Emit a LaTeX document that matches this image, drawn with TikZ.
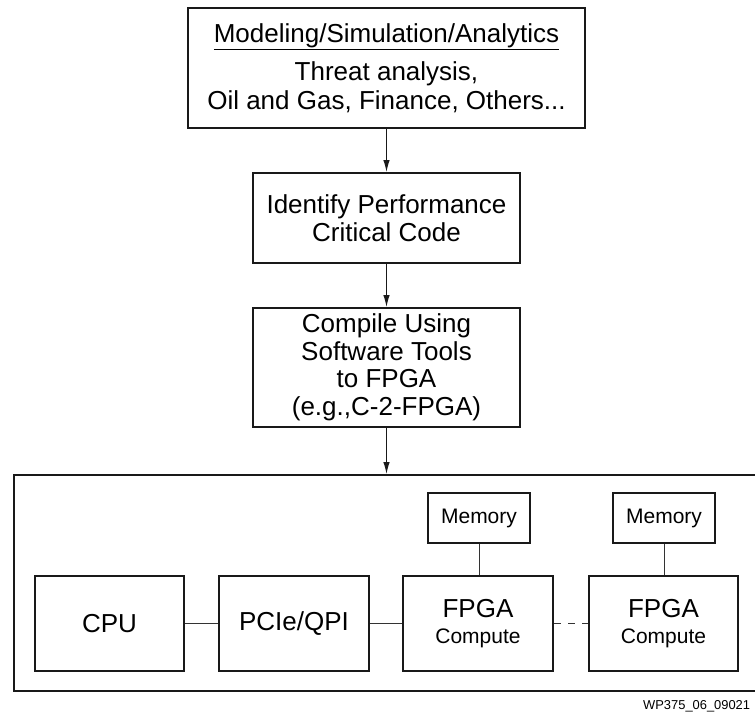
\documentclass[tikz,border=0pt]{standalone}
\usepackage{fontspec}
\setmainfont{Liberation Sans}
\usetikzlibrary{arrows.meta}
\tikzset{
  block/.style={draw=black!90, line width=2pt, align=center, inner sep=0pt,
    font=\fontsize{26}{27.5}\selectfont},
  small/.style={font=\fontsize{21}{23}\selectfont},
  link/.style={line width=1pt, draw=black!80},
  flow/.style={line width=1.1pt, draw=black!90, -{Latex[length=12pt,width=6.5pt]}},
}
\begin{document}
\begin{tikzpicture}[x=1pt,y=-1pt]
\useasboundingbox (0,0) rectangle (755,718);
% flow of the work
\node[block, minimum width=397, minimum height=120, font=\fontsize{26}{28.5}\selectfont] (model) at (386.5,68)
  {\underline{Modeling/Simulation/Analytics}\\[10pt]Threat analysis,\\Oil and Gas, Finance, Others...};
\node[block, minimum width=267, minimum height=90] (ident) at (386.5,218)
  {Identify Performance\\Critical Code};
\node[block, minimum width=267, minimum height=119] (compile) at (386.5,367.5)
  {Compile Using\\Software Tools\\to FPGA\\(e.g.,C-2-FPGA)};
% the system
\node[block, anchor=north west, minimum width=744, minimum height=216] (sys) at (13,474) {};
\node[block, minimum width=149, minimum height=95] (cpu) at (109.5,623.5) {CPU};
\node[block, minimum width=150, minimum height=95] (pcie) at (294,623.5) {PCIe/QPI};
\node[block, minimum width=150, minimum height=95] (fpga1) at (478,623.5)
  {FPGA\\[-1.5pt]{\fontsize{21}{23}\selectfont Compute}};
\node[block, minimum width=149, minimum height=95] (fpga2) at (663.5,623.5)
  {FPGA\\[-1.5pt]{\fontsize{21}{23}\selectfont Compute}};
\node[block, small, minimum width=102, minimum height=50] (mem1) at (479,518) {Memory};
\node[block, small, minimum width=102, minimum height=50] (mem2) at (664,518) {Memory};

\draw[flow] (model) -- (ident);
\draw[flow] (ident) -- (compile);
\draw[flow] (compile.south) -- (compile.south |- sys.north);

\draw[link] (cpu) -- (pcie);
\draw[link] (pcie) -- (fpga1);
\draw[link, dash pattern=on 7pt off 7pt] (fpga1) -- (fpga2);
\draw[link] (mem1) -- (mem1 |- fpga1.north);
\draw[link] (mem2) -- (mem2 |- fpga2.north);

\node[anchor=base west, inner sep=0pt, font=\fontsize{12.9}{14}\selectfont] (tag) at (643,709)
  {WP375\_06\_09021};
\end{tikzpicture}
\end{document}
